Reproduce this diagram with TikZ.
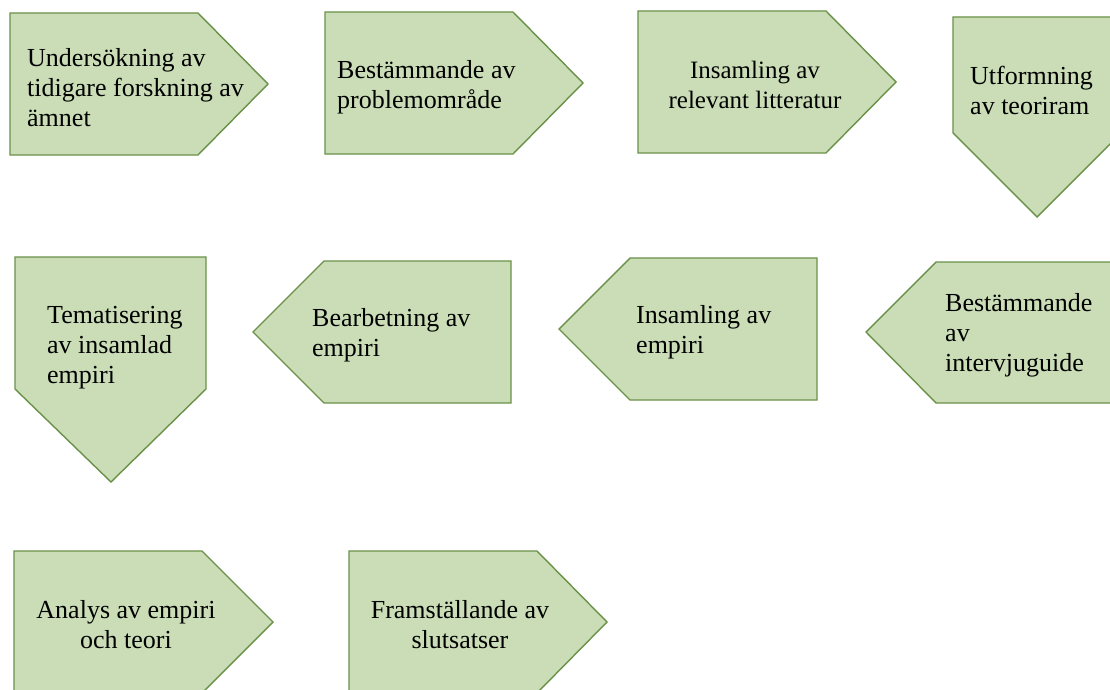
\documentclass[tikz,border=0pt]{standalone}
\usepackage{fontspec}
\setmainfont{Liberation Serif}
\usepackage{tikz}

\definecolor{stepfill}{HTML}{CADDB6}
\definecolor{stepedge}{HTML}{6A9149}

\tikzset{
	stepshape/.style={fill=stepfill, draw=stepedge, line width=1.4pt, line join=miter},
	steptext/.style={inner sep=0pt, align=left, font=\fontsize{26}{30}\selectfont},
	steptextc/.style={steptext, align=center}
}

\begin{document}
\begin{tikzpicture}[x=1pt, y=-1pt]
		\clip (0,0) rectangle (1110,690);
		\fill[white] (0,0) rectangle (1110,690);

		% first row
		\draw[stepshape] (10,13) -- (198,13) -- (268,84) -- (198,155) -- (10,155) -- cycle;
		\draw[stepshape] (325,12) -- (513,12) -- (583,83) -- (513,154) -- (325,154) -- cycle;
		\draw[stepshape] (638,11) -- (826,11) -- (896,82) -- (826,153) -- (638,153) -- cycle;
		\draw[stepshape] (953,17) -- (1121,17) -- (1121,133) -- (1037,217) -- (953,133) -- cycle;

		% second row
		\draw[stepshape] (15,257) -- (206,257) -- (206,389) -- (111,482) -- (15,389) -- cycle;
		\draw[stepshape] (253,332) -- (324,261) -- (511,261) -- (511,403) -- (324,403) -- cycle;
		\draw[stepshape] (559,329) -- (630,258) -- (817,258) -- (817,400) -- (630,400) -- cycle;
		\draw[stepshape] (866,332) -- (936,262) -- (1120,262) -- (1120,403) -- (936,403) -- cycle;

		% third row
		\draw[stepshape] (14,551) -- (202,551) -- (273,622) -- (202,693) -- (14,693) -- cycle;
		\draw[stepshape] (349,551) -- (537,551) -- (607,622) -- (537,693) -- (349,693) -- cycle;

		\node[steptext, anchor=west]  (forsk)  at (27,88)   {Undersökning av\\tidigare forskning av\\ämnet};
		\node[steptext, anchor=west]  (problem) at (337,87) {Bestämmande av\\problemområde};
		\node[steptextc, font=\fontsize{25}{30}\selectfont] (litt) at (755,85) {Insamling av\\relevant litteratur};
		\node[steptext, anchor=west]  (teori)  at (970,90)  {Utformning\\av teoriram};

		\node[steptext, anchor=west]  (tema)   at (47,348)  {Tematisering\\av insamlad\\empiri};
		\node[steptext, anchor=west]  (bearb)  at (312,335) {Bearbetning av\\empiri};
		\node[steptext, anchor=west]  (insaml) at (636,332) {Insamling av\\empiri};
		\node[steptext, anchor=west]  (guide)  at (945,335) {Bestämmande\\av\\intervjuguide};

		\node[steptextc]              (analys) at (126,625) {Analys av empiri\\och teori};
		\node[steptextc]              (slut)   at (460,625) {Framställande av\\slutsatser};
	\end{tikzpicture}
\end{document}
